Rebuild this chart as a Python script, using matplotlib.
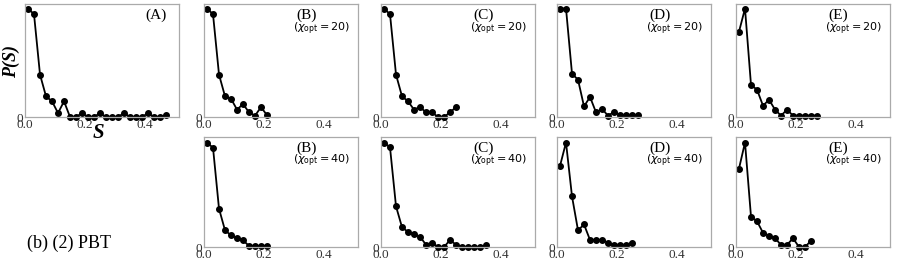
import matplotlib
matplotlib.use('Agg')
import matplotlib.pyplot as plt

plt.rcParams['mathtext.fontset'] = 'dejavusans'

# bin centres, bin width 0.02
def bins(n):
    return [0.01 + 0.02 * i for i in range(n)]

# P(S) values, normalised to the axis height
pA = [0.96, 0.91, 0.375, 0.183, 0.139, 0.035, 0.139, 0.0, 0.0, 0.035, 0.0, 0.0,
      0.035, 0.0, 0.0, 0.0, 0.035, 0.0, 0.0, 0.0, 0.035, 0.0, 0.0, 0.018]
pB20 = [0.96, 0.91, 0.375, 0.183, 0.162, 0.065, 0.115, 0.041, 0.012, 0.088, 0.015]
pC20 = [0.96, 0.91, 0.375, 0.183, 0.139, 0.065, 0.088, 0.041, 0.041, 0.0, 0.0, 0.041, 0.088]
pD20 = [0.96, 0.96, 0.383, 0.33, 0.094, 0.177, 0.041, 0.071, 0.012, 0.044, 0.018, 0.018, 0.018, 0.018]
pE20 = [0.755, 0.96, 0.283, 0.242, 0.1, 0.153, 0.065, 0.012, 0.065, 0.012, 0.012, 0.012, 0.012, 0.012]
pB40 = [0.948, 0.903, 0.348, 0.152, 0.106, 0.082, 0.061, 0.01, 0.01, 0.01, 0.01]
pC40 = [0.95, 0.906, 0.37, 0.18, 0.137, 0.114, 0.094, 0.02, 0.04, 0.0, 0.0, 0.064, 0.02,
        0.0, 0.0, 0.0, 0.0, 0.015]
pD40 = [0.737, 0.95, 0.46, 0.152, 0.205, 0.064, 0.064, 0.064, 0.04, 0.02, 0.02, 0.02, 0.04]
pE40 = [0.713, 0.95, 0.275, 0.234, 0.129, 0.102, 0.079, 0.02, 0.02, 0.079, 0.0, 0.0, 0.058]

serif = 'Liberation Serif'
W, H = 899, 269
fig = plt.figure(figsize=(W / 100, H / 100), dpi=100)

lefts = [25, 204, 381, 557, 736]
width = 154
rows = {0: (4, 117), 1: (137, 247)}

panels = [
    (0, 0, pA, '(A)', None),
    (0, 1, pB20, '(B)', 20), (0, 2, pC20, '(C)', 20),
    (0, 3, pD20, '(D)', 20), (0, 4, pE20, '(E)', 20),
    (1, 1, pB40, '(B)', 40), (1, 2, pC40, '(C)', 40),
    (1, 3, pD40, '(D)', 40), (1, 4, pE40, '(E)', 40),
]

axes = {}
for r, c, vals, lab, chi in panels:
    top, bot = rows[r]
    ax = fig.add_axes([lefts[c] / W, (H - bot) / H, width / W, (bot - top) / H])
    ax.plot(bins(len(vals)), vals, '-o', color='black', lw=1.3, ms=4.0, clip_on=False)
    ax.set_xlim(0, 0.513)
    ax.set_ylim(0, 1)
    ax.set_xticks([0.0, 0.2, 0.4])
    ax.set_xticklabels(['0.0', '0.2', '0.4'])
    ax.set_yticks([0])
    ax.set_yticklabels(['0'])
    ax.tick_params(length=0, pad=1.5, labelsize=9.5, labelcolor='#333333')
    for t in ax.get_xticklabels() + ax.get_yticklabels():
        t.set_family(serif)
    for s in ax.spines.values():
        s.set_color('#aaaaaa')
        s.set_linewidth(0.9)
    if chi is None:
        ax.text(0.85, 0.9, lab, transform=ax.transAxes, ha='center', va='center',
                family=serif, fontsize=11)
    else:
        ax.text(0.6, 0.9, lab, transform=ax.transAxes, ha='left', va='center',
                family=serif, fontsize=11)
        ax.text(0.575, 0.78, r'$(\chi_{\rm opt} = %d)$' % chi, transform=ax.transAxes,
                ha='left', va='center', fontsize=8)
    axes[(r, c)] = ax

axA = axes[(0, 0)]
fig.text(11 / W, 1 - 62 / H, 'P(S)', rotation=90, ha='center', va='center',
         family=serif, fontsize=13, fontweight='bold', style='italic')
axA.text(0.48, -0.14, 'S', transform=axA.transAxes, ha='center', va='center',
         family=serif, fontsize=15, fontweight='bold', style='italic')

fig.text(27 / W, 1 - 243 / H, '(b) (2) PBT', family=serif, fontsize=13,
         ha='left', va='center')

fig.savefig('out.png', dpi=100)
